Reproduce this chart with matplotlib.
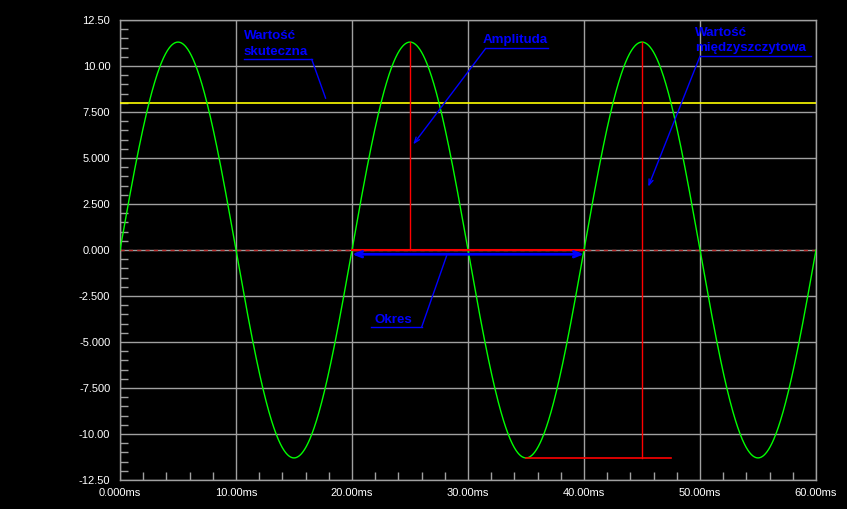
import numpy as np
import matplotlib
matplotlib.use("Agg")
import matplotlib.pyplot as plt
from matplotlib.ticker import MultipleLocator

# ---- data ----
amplitude = 11.3          # peak value
period_ms = 20.0          # period of the wave
rms_value = 8.0           # "Wartość skuteczna" line
x_ticks = [0, 10, 20, 30, 40, 50, 60]
x_tick_labels = ["0.000ms", "10.00ms", "20.00ms", "30.00ms", "40.00ms", "50.00ms", "60.00ms"]
y_ticks = [12.5, 10, 7.5, 5, 2.5, 0, -2.5, -5, -7.5, -10, -12.5]
y_tick_labels = ["12.50", "10.00", "7.500", "5.000", "2.500", "0.000",
                 "-2.500", "-5.000", "-7.500", "-10.00", "-12.50"]
amp_marker_t = 25.0       # amplitude marker time
pp_marker_t = 45.0        # peak-to-peak marker time
period_start, period_end = 20.0, 40.0
trough_line = [35.0, 47.5]

t = np.linspace(0, 60, 3001)
v = amplitude * np.sin(2 * np.pi * t / period_ms)

# ---- figure ----
W, H = 847, 509
fig = plt.figure(figsize=(W / 100, H / 100), dpi=100, facecolor="black")
ax = fig.add_axes([120 / W, (H - 480) / H, 696 / W, 460 / H], facecolor="black")
ax.set_xlim(0, 60)
ax.set_ylim(-12.5, 12.5)

grid_c = "#a0a0a0"
ax.set_xticks(x_ticks)
ax.set_xticklabels(x_tick_labels)
ax.set_yticks(y_ticks)
ax.set_yticklabels(y_tick_labels)
ax.xaxis.set_minor_locator(MultipleLocator(2))
ax.yaxis.set_minor_locator(MultipleLocator(0.5))
ax.grid(True, which="major", color=grid_c, linewidth=1, zorder=1)
for s in ax.spines.values():
    s.set_color(grid_c)
    s.set_linewidth(1)
ax.tick_params(which="both", direction="in", colors=grid_c, top=False, right=False)
ax.tick_params(which="major", length=0, labelcolor="white", labelsize=8)
ax.tick_params(which="minor", length=5.5, width=1)
ax.tick_params(axis="y", which="major", pad=7)
ax.tick_params(axis="x", which="major", pad=6)
for lab in ax.get_xticklabels() + ax.get_yticklabels():
    lab.set_fontfamily("Liberation Sans")

# zero line red dashes over grid
ax.plot([0, 60], [0, 0], color="#c03030", linewidth=1, dashes=(3, 3), zorder=2)
# rms line
ax.plot([0, 60], [rms_value, rms_value], color="#ffff00", linewidth=1.2, zorder=3)
# sine
ax.plot(t, v, color="#00ff00", linewidth=1, zorder=4)

red = "#ff0000"
ax.plot([amp_marker_t, amp_marker_t], [0, amplitude], color=red, linewidth=1, zorder=5)
ax.plot([period_start, period_end], [0, 0], color=red, linewidth=1.5, zorder=5)
ax.plot([pp_marker_t, pp_marker_t], [-amplitude, amplitude], color=red, linewidth=1, zorder=5)
ax.plot(trough_line, [-amplitude, -amplitude], color=red, linewidth=1.2, zorder=5)

blue = "#0000ff"
# period double arrow
ax.annotate("", xy=(period_start, -0.23), xytext=(period_end, -0.23),
            arrowprops=dict(arrowstyle="<->,head_length=0.5,head_width=0.2", color=blue,
                            lw=2, shrinkA=0, shrinkB=0), zorder=6)

tfont = dict(color=blue, fontsize=9.6, fontweight="bold", family="Liberation Sans",
             va="baseline", ha="left", zorder=7)

def label(lines, tx, baselines, ux0, ux1, uy, tip, arrow):
    for line, by in zip(lines, baselines):
        ax.text(tx, by, line, **tfont)
    ax.plot([ux0, ux1], [uy, uy], color=blue, linewidth=1, zorder=6)
    start = (ux1, uy) if tip[0] > ux1 - 1 else (ux0, uy)
    style = "->,head_length=0.4,head_width=0.15" if arrow else "-"
    ax.annotate("", xy=tip, xytext=start,
                arrowprops=dict(arrowstyle=style, color=blue, lw=1, shrinkA=0, shrinkB=0),
                zorder=6)

label(["Wartość", "skuteczna"], 10.66, [11.45, 10.60], 10.69, 16.53, 10.36, (17.73, 8.24), False)
label(["Amplituda"], 31.29, [11.23], 31.53, 36.9, 10.96, (25.28, 5.74), True)
label(["Wartość", "międzyszczytowa"], 49.57, [11.65, 10.83], 50.0, 59.54, 10.53, (45.54, 3.44), True)
label(["Okres"], 21.92, [-3.95], 21.64, 26.0, -4.2, (28.16, -0.31), False)

fig.savefig("out.png", dpi=100, facecolor="black")
